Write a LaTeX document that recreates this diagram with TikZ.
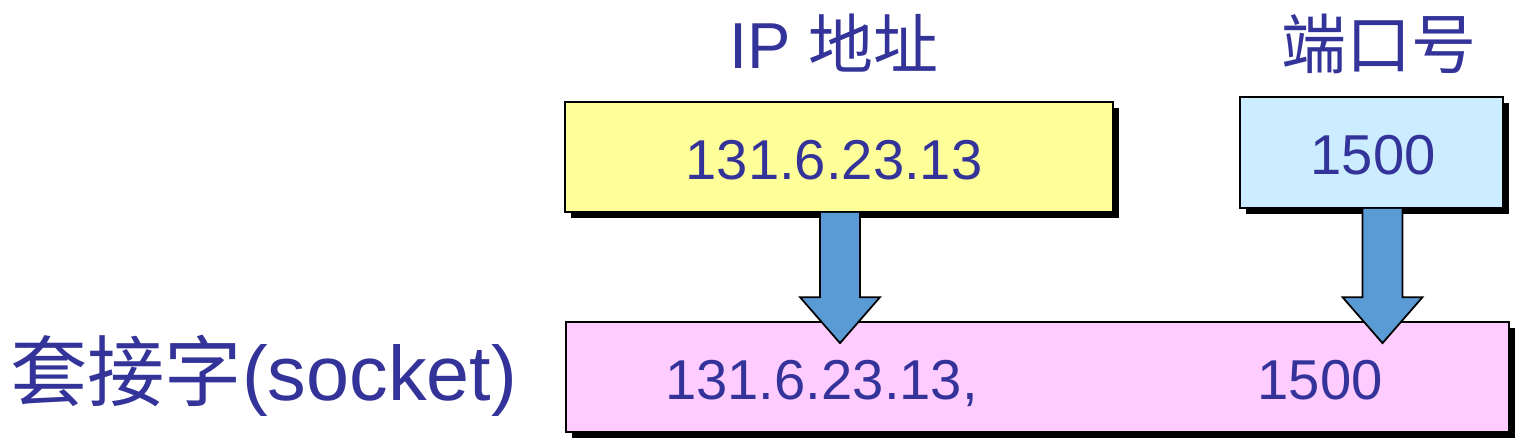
\documentclass[tikz,border=0pt]{standalone}
\usepackage{fontspec}
\setmainfont{Liberation Sans}
\newfontfamily\cjk{Noto Sans CJK SC}
\usepackage{tikz}
\usetikzlibrary{calc,shadows}
\definecolor{txtblue}{HTML}{333399}
\definecolor{ipyellow}{HTML}{FFFF99}
\definecolor{portblue}{HTML}{CCECFF}
\definecolor{sockpink}{HTML}{FFCCFF}
\definecolor{arrowblue}{HTML}{5B9BD5}
\tikzset{
  box/.style={draw=black, line width=1pt, inner sep=0pt,
    drop shadow={opacity=1, fill=black, shadow xshift=0.12cm, shadow yshift=-0.12cm}},
  num/.style={text=txtblue, font=\fontsize{32}{36}\selectfont, anchor=base},
  title/.style={text=txtblue, font=\fontsize{37}{42}\selectfont, anchor=base},
  blockarrow/.style={draw=black, line width=1pt, fill=arrowblue, line join=miter}
}
\begin{document}
\begin{tikzpicture}[x=0.02cm, y=-0.02cm]
\useasboundingbox (0,0) rectangle (1527,447);
% boxes
\node[box, fill=ipyellow, minimum width=10.96cm, minimum height=2.2cm] (ip) at (839,157) {};
\node[box, fill=portblue, minimum width=5.26cm, minimum height=2.22cm] (port) at (1371.5,152.5) {};
\node[box, fill=sockpink, minimum width=18.86cm, minimum height=2.2cm] (sock) at (1037.5,377) {};
% texts
\node[title] (iptitle) at (834,68) {IP {\cjk 地址}};
\node[title] (porttitle) at (1379,68) {\cjk 端口号};
\node[num] (iptext) at (834,179) {131.6.23.13};
\node[num] (porttext) at (1373,174) {1500};
\node[num] (sockip) at (821.5,399) {131.6.23.13,};
\node[num] (sockport) at (1320,399) {1500};
\node[text=txtblue, font=\fontsize{44}{48}\selectfont, anchor=base west] (socklabel) at (4,400) {{\cjk 套接字}(socket)};
% arrows
\foreach \a/\dx in {ip/1, port/11}{
  \coordinate (top) at ($(\a.south)+(\dx,0)$);
  \coordinate (tip) at ($(top |- sock.north)+(0,22)$);
  \coordinate (neck) at ($(top |- sock.north)+(0,-24)$);
  \draw[blockarrow] ($(top)+(-20,0)$) -- ($(neck)+(-20,0)$) -- ($(neck)+(-40,0)$) -- (tip)
    -- ($(neck)+(40,0)$) -- ($(neck)+(20,0)$) -- ($(top)+(20,0)$);
}
\end{tikzpicture}
\end{document}
